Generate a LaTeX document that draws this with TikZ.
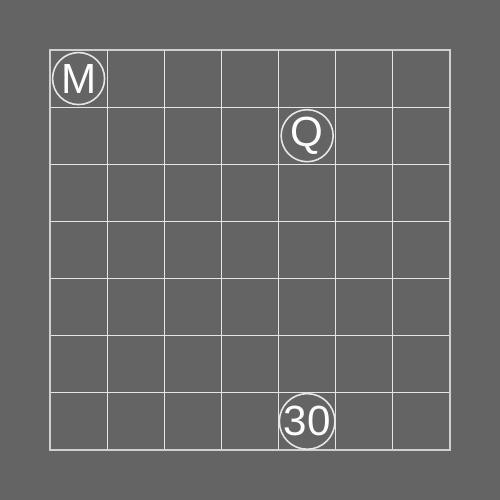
\documentclass[tikz,border=0pt]{standalone}
\usepackage{fontspec}
\setmainfont{Liberation Sans}
\usepackage{tikz}
\usetikzlibrary{positioning}
\definecolor{bgray}{HTML}{646464}
\definecolor{lgray}{HTML}{E6E6E6}
\definecolor{egray}{HTML}{CFCFCF}
\tikzset{
  piece/.style={circle, draw=lgray, line width=0.9pt, text=white, minimum size=1.04cm,
                inner sep=0pt, font=\fontsize{24}{24}\selectfont},
}

\begin{document}
\begin{tikzpicture}[x=1.142857cm, y=-1.142857cm]
  % background and board
  \fill[bgray] (-0.875,-0.875) rectangle (7.875,7.875);
  \useasboundingbox (-0.875,-0.875) rectangle (7.875,7.875);
  \foreach \i in {1,...,6} {
    \draw[lgray, line width=0.7pt] (\i,0) -- (\i,7);
    \draw[lgray, line width=0.7pt] (0,\i) -- (7,\i);
  }
  \draw[egray, line width=0.7pt] (0,0) rectangle (7,7);

  % pieces
  \node[piece] (m) at (0.5,0.5) {M};
  \node[piece] (q) at (4.5,1.5) {Q};
  \node[piece] (thirty) at (4.5,6.5) {30};
\end{tikzpicture}
\end{document}
